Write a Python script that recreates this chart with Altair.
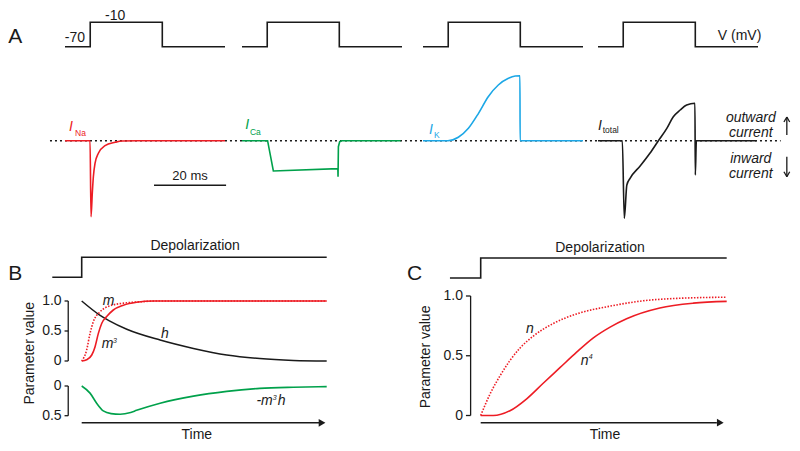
import altair as alt
import pandas as pd

# ---------------- data ----------------
# Panel A: voltage-clamp step protocol (time in ms, potential in mV)
V_T = [0.0, 7.0, 7.0, 27.0, 27.0, 44.4]
V_MV = [-70, -70, -10, -10, -70, -70]
V_LABELS = ["-70", "-10", "V (mV)"]

# Panel A: membrane currents (arbitrary units, outward positive)
NA_T = [0.0, 6.95, 7.22, 7.58, 7.87, 8.33, 9.26, 11.1, 13.9, 15.8, 20.0, 44.4]
NA_I = [0.0, 0.0, -7.6, -5.2, -3.6, -2.26, -1.26, -0.5, -0.16, -0.03, 0.0, 0.0]
CA_T = [0.0, 7.1, 8.7, 26.6, 26.65, 26.75, 27.1, 27.6, 44.0]
CA_I = [0.0, 0.0, -3.03, -2.8, -3.6, -0.6, -0.1, 0.0, 0.0]
K_T = [0.0, 6.9, 9.8, 12.6, 15.4, 18.1, 20.9, 23.7, 25.6, 26.9, 26.95, 44.4]
K_I = [0.0, 0.0, 0.34, 1.24, 2.74, 4.4, 5.57, 6.24, 6.47, 6.5, 0.0, 0.0]
TOT_T = [0.0, 6.75, 7.3, 8.0, 8.9, 11.7, 14.4, 16.75, 19.1, 20.9, 22.8, 24.6, 26.9, 27.0, 27.3, 44.0]
TOT_I = [0.0, 0.0, -7.76, -4.43, -3.76, -2.53, -1.26, 0.0, 1.24, 2.4, 3.07, 3.57, 3.74, -3.43, 0.0, 0.0]
SCALEBAR_MS = [24.7, 44.7]

# Panels B / C: depolarizing step (arbitrary time units, 0..10)
STEP_T = [-1.2, 0.0, 0.0, 10.0]
STEP_LV = [0, 0, 1, 1]

# Panel B: Na gating variables
M_T = [0, 0.2, 0.34, 0.47, 0.75, 1.16, 1.84, 2.52, 3.06, 10]
M_V = [0, 0.18, 0.46, 0.65, 0.82, 0.92, 0.97, 0.99, 1.0, 1.0]
M3_T = [0, 0.2, 0.41, 0.54, 0.68, 0.82, 1.02, 1.29, 1.7, 2.24, 2.92, 10]
M3_V = [0, 0.02, 0.1, 0.23, 0.46, 0.63, 0.74, 0.85, 0.93, 0.98, 1.0, 1.0]
H_T = [0, 0.72, 1.13, 1.84, 3.2, 4.56, 5.92, 7.27, 8.64, 10]
H_V = [1.0, 0.77, 0.67, 0.53, 0.35, 0.21, 0.1, 0.04, 0.01, 0.0]
G_T = [0, 0.34, 0.61, 0.88, 1.2, 1.57, 2.0, 2.24, 3.2, 4.56, 5.92, 7.27, 8.64, 10]
G_V = [0, 0.12, 0.29, 0.42, 0.465, 0.475, 0.445, 0.41, 0.29, 0.17, 0.09, 0.04, 0.02, 0.01]

# Panel C: K gating variable
N_T = [0, 0.38, 0.78, 1.19, 1.6, 2.14, 2.95, 3.9, 5.26, 6.61, 7.97, 10]
N_V = [0, 0.18, 0.33, 0.46, 0.565, 0.665, 0.77, 0.85, 0.915, 0.96, 0.98, 0.99]
N4_T = [0, 0.51, 1.19, 1.87, 2.54, 3.22, 3.9, 4.58, 5.26, 5.93, 7.28, 8.64, 10]
N4_V = [0, 0.0, 0.04, 0.14, 0.27, 0.4, 0.53, 0.65, 0.74, 0.81, 0.9, 0.94, 0.955]

TICKS_UP = [0, 0.5, 1.0]
TICK_LBL_UP = ["0", "0.5", "1.0"]
TICKS_LO = [0, 0.5]
TICK_LBL_LO = ["0", "0.5"]

# ---------------- styling ----------------
FONT = "Liberation Sans"
RED = "#ed1c24"
GREEN = "#00a14b"
BLUE = "#1ca7e6"
INK = "#1a1a1a"
OFF = 8  # page margin


def sc(d, r):
    return alt.Scale(domain=d, range=[r[0] - OFF, r[1] - OFF], nice=False, zero=False)


def line(t, v, xs, ys, color=INK, width=1.5, dash=None, interp="linear"):
    df = pd.DataFrame({"x": t, "y": v, "o": list(range(len(t)))})
    mk = dict(color=color, strokeWidth=width, interpolate=interp)
    if dash is not None:
        mk["strokeDash"] = dash
    return alt.Chart(df).mark_line(**mk).encode(
        x=alt.X("x:Q", scale=xs, axis=None),
        y=alt.Y("y:Q", scale=ys, axis=None),
        order="o:Q",
    )


def segs(rows, xs, ys, color=INK, width=1.3, dash=None):
    df = pd.DataFrame(rows, columns=["x", "y", "x2", "y2"])
    mk = dict(color=color, strokeWidth=width)
    if dash is not None:
        mk["strokeDash"] = dash
    return alt.Chart(df).mark_rule(**mk).encode(
        x=alt.X("x:Q", scale=xs, axis=None),
        y=alt.Y("y:Q", scale=ys, axis=None),
        x2="x2:Q",
        y2="y2:Q",
    )


def label(items, xs, ys, size=14, style="normal", color=INK, align="left",
          baseline="alphabetic", angle=0):
    df = pd.DataFrame(items, columns=["x", "y", "t"])
    return alt.Chart(df).mark_text(
        font=FONT, fontSize=size, fontStyle=style, color=color, align=align,
        baseline=baseline, angle=angle,
    ).encode(
        x=alt.X("x:Q", scale=xs, axis=None),
        y=alt.Y("y:Q", scale=ys, axis=None),
        text="t:N",
    )


def arrowhead(t, v, xs, ys):
    df = pd.DataFrame({"x": [t], "y": [v]})
    return alt.Chart(df).mark_point(shape="triangle-right", filled=True, size=60,
                                    color=INK, opacity=1).encode(
        x=alt.X("x:Q", scale=xs, axis=None),
        y=alt.Y("y:Q", scale=ys, axis=None),
    )


layers = []

# ---------------- Panel A ----------------
COL_X0 = [65, 242, 423, 598]
TRACE_W = 160


def xA(k):
    return sc([0, 44.4], [COL_X0[k], COL_X0[k] + TRACE_W])


yV = sc([-70, -10], [46.7, 22.3])
yI = sc([-10, 10], [240.7, 40.7])

layers.append(segs([(-4.17, 0, 198.6, 0)], xA(0), yI, width=1.5, dash=[2, 3]))
for k in range(4):
    layers.append(line(V_T, V_MV, xA(k), yV, width=1.6))

layers.append(line(NA_T, NA_I, xA(0), yI, color=RED, width=1.6, interp="monotone"))
layers.append(line(CA_T, CA_I, xA(1), yI, color=GREEN, width=1.6))
layers.append(line(K_T, K_I, xA(2), yI, color=BLUE, width=1.6, interp="monotone"))
layers.append(line(TOT_T, TOT_I, xA(3), yI, color=INK, width=1.6, interp="monotone"))

layers.append(label([(-15.75, -61.6, "A")], xA(0), yV, size=21))
layers.append(label([(5.56, -57.7, V_LABELS[0])], xA(0), yV, size=14, align="right"))
layers.append(label([(13.9, -5.0, V_LABELS[1])], xA(0), yV, size=14, align="center"))
layers.append(label([(33.25, -52.3, V_LABELS[2])], xA(3), yV, size=14))

# scale bar
layers.append(segs([(SCALEBAR_MS[0], -4.46, SCALEBAR_MS[1], -4.46)], xA(0), yI, width=1.5))
layers.append(label([(34.7, -3.93, "20 ms")], xA(0), yI, size=13, align="center"))

# current labels
for k, (tI, iI, sub, tS, iS, col) in enumerate([
    (1.67, 1.0, "Na", 2.78, 0.47, RED),
    (1.47, 1.17, "Ca", 2.2, 0.6, GREEN),
    (2.2, 0.67, "K", 3.06, 0.24, BLUE),
    (0.56, 1.07, "total", 1.3, 0.77, INK),
]):
    layers.append(label([(tI, iI, "I")], xA(k), yI, size=14, style="italic", color=col, align="center"))
    layers.append(label([(tS, iS, sub)], xA(k), yI, size=8.5, color=col))

layers.append(label([(42.4, 1.9, "outward"), (42.4, 0.4, "current"),
                     (42.4, -2.26, "inward"), (42.4, -3.76, "current")],
                    xA(3), yI, size=14, style="italic", align="center"))
AX = 52.4
layers.append(segs([
    (AX, 0.57, AX, 2.37), (AX, 2.37, AX - 0.8, 1.87), (AX, 2.37, AX + 0.8, 1.87),
    (AX, -1.6, AX, -3.6), (AX, -3.6, AX - 0.8, -3.1), (AX, -3.6, AX + 0.8, -3.1),
], xA(3), yI, width=1.3))

# ---------------- Panel B ----------------
xB = sc([0, 10], [81.7, 326.7])
yBs = sc([0, 1], [277.3, 257.3])
yBu = sc([0, 1], [361, 301])
yBl = sc([0, 0.5], [386, 415.7])

layers.append(line(STEP_T, STEP_LV, xB, yBs, width=1.6))
layers.append(label([(-3.0, -0.13, "B")], xB, yBs, size=21))
layers.append(label([(4.63, 1.37, "Depolarization")], xB, yBs, size=14, align="center"))

layers.append(segs([(-0.55, 0, -0.55, 1)] + [(-0.7, v, -0.55, v) for v in TICKS_UP], xB, yBu))
layers.append(label([(-0.82, v, s) for v, s in zip(TICKS_UP, TICK_LBL_UP)], xB, yBu,
                    size=14, align="right", baseline="middle"))
layers.append(segs([(-0.55, 0, -0.55, 0.5)] + [(-0.7, v, -0.55, v) for v in TICKS_LO], xB, yBl))
layers.append(label([(-0.82, v, s) for v, s in zip(TICKS_LO, TICK_LBL_LO)], xB, yBl,
                    size=14, align="right", baseline="middle"))
layers.append(label([(-2.11, 0.13, "Parameter value")], xB, yBu, size=14, align="center",
                    baseline="middle", angle=270))

layers.append(line(H_T, H_V, xB, yBu, color=INK, width=1.5, interp="monotone"))
layers.append(line(M_T, M_V, xB, yBu, color=RED, width=1.6, dash=[1.5, 1.5], interp="monotone"))
layers.append(line(M3_T, M3_V, xB, yBu, color=RED, width=1.6, interp="monotone"))
layers.append(line(G_T, G_V, xB, yBl, color=GREEN, width=1.6, interp="monotone"))

layers.append(label([(0.86, 0.93, "m"), (0.82, 0.21, "m"), (3.24, 0.38, "h")], xB, yBu,
                    size=14, style="italic"))
layers.append(label([(1.28, 0.3, "3")], xB, yBu, size=7, style="italic"))
layers.append(label([(7.13, 0.32, "-m"), (8.0, 0.32, "h")], xB, yBl, size=14, style="italic"))
layers.append(label([(7.8, 0.235, "3")], xB, yBl, size=7, style="italic"))

layers.append(segs([(0, 0.62, 9.7, 0.62)], xB, yBl, width=1.5))
layers.append(arrowhead(9.81, 0.62, xB, yBl))
layers.append(label([(4.7, 0.9, "Time")], xB, yBl, size=14, align="center"))

# ---------------- Panel C ----------------
xC = sc([0, 10], [480.7, 726.7])
yCs = sc([0, 1], [278, 258])
yC = sc([0, 1], [415.5, 296])

layers.append(line([-1.25] + STEP_T[1:], STEP_LV, xC, yCs, width=1.6))
layers.append(label([(-3.0, -0.1, "C")], xC, yCs, size=21))
layers.append(label([(4.85, 1.3, "Depolarization")], xC, yCs, size=14, align="center"))

layers.append(segs([(-0.41, 0, -0.41, 1)] + [(-0.6, v, -0.41, v) for v in TICKS_UP], xC, yC))
layers.append(label([(-0.72, v, s) for v, s in zip(TICKS_UP, TICK_LBL_UP)], xC, yC,
                    size=14, align="right", baseline="middle"))
layers.append(label([(-2.22, 0.49, "Parameter value")], xC, yC, size=14, align="center",
                    baseline="middle", angle=270))

layers.append(line(N_T, N_V, xC, yC, color=RED, width=1.6, dash=[1.5, 1.5], interp="monotone"))
layers.append(line(N4_T, N4_V, xC, yC, color=RED, width=1.6, interp="monotone"))
layers.append(label([(1.84, 0.69, "n"), (4.07, 0.42, "n")], xC, yC, size=14, style="italic"))
layers.append(label([(4.39, 0.47, "4")], xC, yC, size=7, style="italic"))

layers.append(segs([(0, -0.06, 9.6, -0.06)], xC, yC, width=1.5))
layers.append(arrowhead(9.74, -0.06, xC, yC))
layers.append(label([(5.05, -0.2, "Time")], xC, yC, size=14, align="center"))

chart = alt.layer(*layers).resolve_scale(x="independent", y="independent").properties(
    width=784, height=435, padding=0, autosize=alt.AutoSizeParams(type="none"),
    background="white",
).configure_view(stroke=None)

chart.save("out.html", embed_options={"renderer": "svg", "actions": False})
